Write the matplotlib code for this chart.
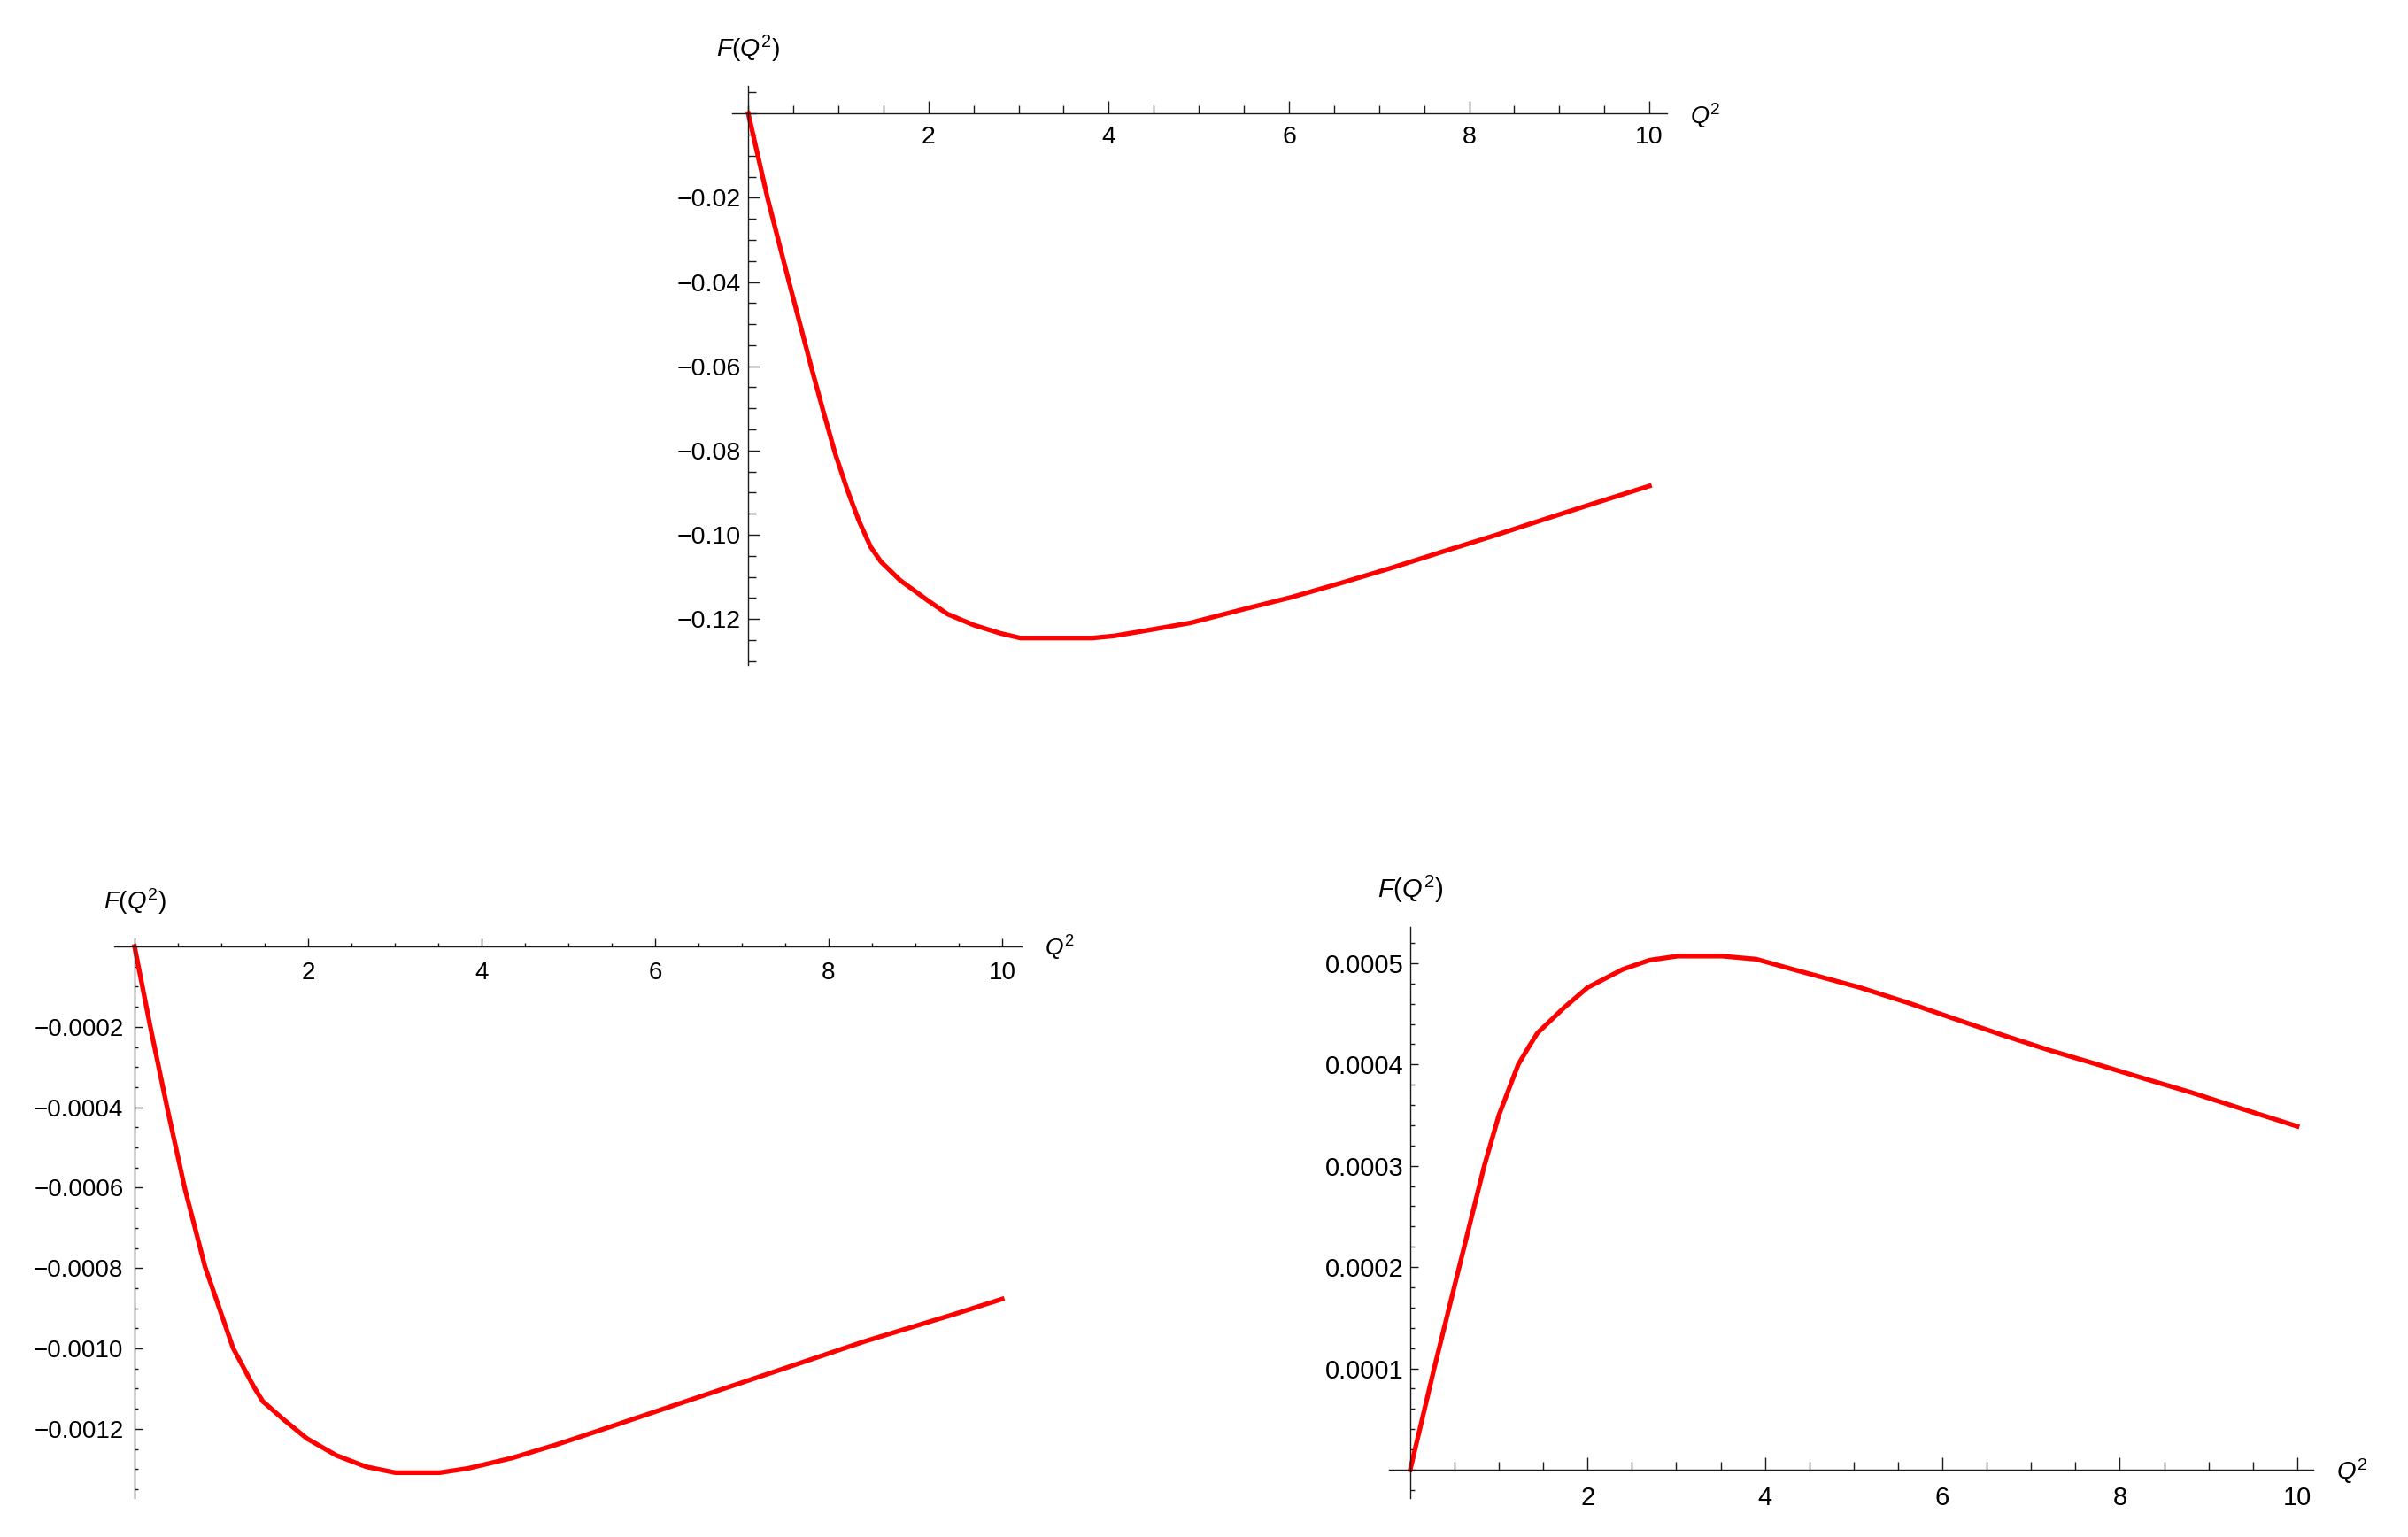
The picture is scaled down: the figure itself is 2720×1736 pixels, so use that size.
import numpy as np
import matplotlib.pyplot as plt
from matplotlib.ticker import MultipleLocator

plt.rcParams['font.family'] = ['Liberation Sans', 'DejaVu Sans']
plt.rcParams['mathtext.fontset'] = 'custom'
plt.rcParams['mathtext.rm'] = 'Liberation Sans'
plt.rcParams['mathtext.it'] = 'Liberation Sans:italic'

# values
q_top = [0, 0.213, 0.452, 0.697, 0.83, 0.966, 1.097, 1.228, 1.359, 1.473, 1.686, 2.0,
         2.21, 2.50, 2.80, 3.02, 3.82, 4.06, 4.34, 4.906, 5.47, 6.03, 6.60, 7.16, 7.72,
         8.29, 8.85, 9.42, 10]
f_top = [0, -0.02, -0.04, -0.06, -0.0705, -0.0808, -0.0892, -0.0967, -0.1029, -0.1064,
         -0.1108, -0.1157, -0.1188, -0.1214, -0.1234, -0.1245, -0.1245, -0.1240, -0.1230,
         -0.1209, -0.1178, -0.1148, -0.1113, -0.1077, -0.1039, -0.1001, -0.0962, -0.0923,
         -0.0884]

q_bl = [0, 0.184, 0.378, 0.582, 0.813, 1.136, 1.374, 1.476, 1.714, 1.987, 2.327, 2.667,
        3.007, 3.517, 3.85, 4.357, 4.865, 5.37, 6.39, 7.40, 8.42, 9.43, 10]
f_bl = [0, -0.000202, -0.000403, -0.000604, -0.000797, -0.000999, -0.001095, -0.001131,
        -0.001176, -0.001224, -0.001266, -0.001294, -0.001309, -0.001309, -0.001298,
        -0.001272, -0.001239, -0.001203, -0.001129, -0.001056, -0.000982, -0.000916,
        -0.000877]

q_br = [0, 0.27, 0.552, 0.835, 1.0, 1.218, 1.334, 1.434, 1.733, 2.0, 2.398, 2.698, 3.014,
        3.513, 3.90, 4.27, 5.07, 5.61, 6.14, 6.68, 7.21, 7.75, 8.28, 8.82, 9.35, 10]
f_br = [0, 0.0001, 0.0002, 0.0003, 0.00035, 0.0004, 0.000417, 0.000431, 0.000456,
        0.000476, 0.000494, 0.000503, 0.000507, 0.000507, 0.000504, 0.000495, 0.000476,
        0.000461, 0.000445, 0.000429, 0.000414, 0.0004, 0.000386, 0.000372, 0.000357,
        0.000339]

xticks = [2, 4, 6, 8, 10]
xlabels = ['2', '4', '6', '8', '10']

yt_top = [-0.12, -0.10, -0.08, -0.06, -0.04, -0.02]
yl_top = ['\u22120.12', '\u22120.10', '\u22120.08', '\u22120.06', '\u22120.04', '\u22120.02']
yt_bl = [-0.0012, -0.0010, -0.0008, -0.0006, -0.0004, -0.0002]
yl_bl = ['\u22120.0012', '\u22120.0010', '\u22120.0008', '\u22120.0006', '\u22120.0004', '\u22120.0002']
yt_br = [0.0001, 0.0002, 0.0003, 0.0004, 0.0005]
yl_br = ['0.0001', '0.0002', '0.0003', '0.0004', '0.0005']

fig = plt.figure(figsize=(27.2, 17.36), dpi=100)


def panel(rect, q, f, xlim, ylim, yt, yl, yminor, fs, xlen, ylen, xpad, ypad):
    ax = fig.add_axes(rect)
    ax.plot(q, f, color='#ff0000', lw=3.8, solid_joinstyle='round')
    ax.set_xlim(xlim)
    ax.set_ylim(ylim)
    for s in ['top', 'right']:
        ax.spines[s].set_visible(False)
    for s in ['left', 'bottom']:
        ax.spines[s].set_position(('data', 0))
        ax.spines[s].set_linewidth(1.0)
        ax.spines[s].set_color('#1a1a1a')
    ax.set_xticks(xticks, xlabels)
    ax.set_yticks(yt, yl)
    ax.xaxis.set_minor_locator(MultipleLocator(0.5))
    ax.yaxis.set_minor_locator(MultipleLocator(yminor))
    ax.tick_params(axis='x', which='major', direction='in', length=xlen[0], width=1.0,
                   labelsize=fs, pad=xpad, color='#1a1a1a')
    ax.tick_params(axis='x', which='minor', direction='in', length=xlen[1], width=1.0,
                   color='#1a1a1a')
    ax.tick_params(axis='y', which='major', direction='in', length=ylen[0], width=1.0,
                   labelsize=fs, pad=ypad, color='#1a1a1a')
    ax.tick_params(axis='y', which='minor', direction='in', length=ylen[1], width=1.0,
                   color='#1a1a1a')
    ax.patch.set_alpha(0)
    ax.annotate(r'$F(Q^2)$', xy=(0, 1), xycoords=('data', 'axes fraction'),
                xytext=(0, 42), textcoords='offset pixels', ha='center', va='center',
                fontsize=fs)
    ax.annotate(r'$Q^2$', xy=(1, 0), xycoords=('axes fraction', 'data'),
                xytext=(26, -2), textcoords='offset pixels', ha='left', va='center',
                fontsize=fs - 1)
    return ax


panel([0.3040, 0.5676, 0.3881, 0.3764], q_top, f_top, (-0.18, 10.19), (-0.1308, 0.0065),
      yt_top, yl_top, 0.005, 20.5, (9.8, 6.2), (9.6, 6.7), 10, 6)
panel([0.0474, 0.02535, 0.3767, 0.3641], q_bl, f_bl, (-0.235, 10.22), (-0.001372, 0.00002),
      yt_bl, yl_bl, 0.00005, 20, (6.5, 3.2), (6.5, 3.2), 12, 9)
panel([0.5768, 0.02535, 0.3838, 0.3717], q_br, f_br, (-0.24, 10.18), (-0.000028, 0.000536),
      yt_br, yl_br, 0.00002, 21, (9.8, 6.5), (6.5, 3.8), 13, 5)

fig.savefig('out.png', dpi=100)
